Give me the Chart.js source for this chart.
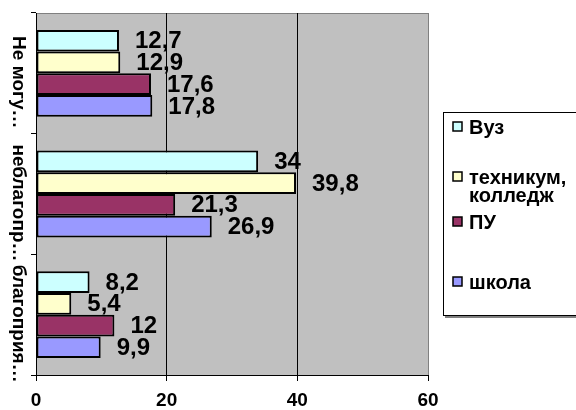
<!DOCTYPE html>
<html><head><meta charset="utf-8">
<script src="https://cdn.jsdelivr.net/npm/chart.js@4/dist/chart.umd.min.js"></script>
<style>html,body{margin:0;padding:0;background:#fff}canvas{display:block}</style>
</head><body>
<canvas id="c" width="576" height="410"></canvas>
<script>
// ---- data ----
const categories = ['Не могу…', 'неблагопр…', 'благоприя…'];
const seriesNames = ['Вуз', 'техникум, колледж', 'ПУ', 'школа'];
const vuz = [12.7, 34, 8.2];
const tekhnikum = [12.9, 39.8, 5.4];
const pu = [17.6, 21.3, 12];
const shkola = [17.8, 26.9, 9.9];
const xTicks = [0, 20, 40, 60];

// ---- styles ----
const FONT = "'Liberation Sans', Arial, sans-serif";
const colors = ['#CCFFFF', '#FFFFCC', '#993366', '#9999FF'];
Chart.defaults.font.family = FONT;
Chart.defaults.color = '#000';

const mctx = document.createElement('canvas').getContext('2d');
mctx.font = 'bold 19px ' + FONT;
const widest = Math.max(...categories.map(c => mctx.measureText(c).width));

const bgPlugin = {
  id: 'bg',
  beforeDraw(chart) {
    const {ctx, chartArea: a} = chart;
    ctx.save();
    ctx.fillStyle = '#C0C0C0';
    ctx.fillRect(a.left, a.top, a.right - a.left, a.bottom - a.top);
    ctx.strokeStyle = '#808080';
    ctx.lineWidth = 1;
    ctx.beginPath();
    ctx.moveTo(a.left, Math.round(a.top) + 0.5);
    ctx.lineTo(a.right, Math.round(a.top) + 0.5);
    ctx.stroke();
    ctx.restore();
  }
};

const valueLabels = {
  id: 'valueLabels',
  afterDatasetsDraw(chart) {
    const ctx = chart.ctx;
    ctx.save();
    ctx.font = 'bold 24px ' + FONT;
    ctx.fillStyle = '#000';
    ctx.textAlign = 'left';
    ctx.textBaseline = 'middle';
    chart.data.datasets.forEach((ds, di) => {
      const meta = chart.getDatasetMeta(di);
      meta.data.forEach((bar, i) => {
        const txt = String(ds.data[i]).replace('.', ',');
        ctx.fillText(txt, bar.x + 16, bar.y + 1);
      });
    });
    ctx.restore();
  }
};

const legendPlugin = {
  id: 'customLegend',
  afterDraw(chart) {
    const ctx = chart.ctx;
    ctx.save();
    ctx.fillStyle = '#808080';
    ctx.fillRect(445, 316, 140, 2);
    ctx.fillStyle = '#fff';
    ctx.fillRect(443, 112, 140, 204);
    ctx.strokeStyle = '#000';
    ctx.lineWidth = 1;
    ctx.strokeRect(443.5, 112.5, 200, 203);
    const ys = [127, 177, 222, 282];
    ctx.font = 'bold 20px ' + FONT;
    ctx.textAlign = 'left';
    ctx.textBaseline = 'middle';
    chart.data.datasets.forEach((ds, i) => {
      const y = ys[i];
      ctx.fillStyle = ds.backgroundColor;
      ctx.fillRect(453, y - 5, 9, 9);
      ctx.strokeStyle = '#000';
      ctx.lineWidth = 1.5;
      ctx.strokeRect(453, y - 5, 9, 9);
      ctx.fillStyle = '#000';
      const lines = ds.label.indexOf(', ') >= 0 ? [ds.label.split(', ')[0] + ',', ds.label.split(', ')[1]] : [ds.label];
      lines.forEach((ln, k) => ctx.fillText(ln, 469, y + 1 + k * 18));
    });
    ctx.restore();
  }
};

const series = [vuz, tekhnikum, pu, shkola];
new Chart(document.getElementById('c'), {
  type: 'bar',
  data: {
    labels: categories,
    datasets: series.map((d, i) => ({
      label: seriesNames[i],
      data: d,
      backgroundColor: colors[i],
      borderColor: '#000',
      borderWidth: 2,
      borderSkipped: false,
      categoryPercentage: 0.72,
      barPercentage: 1.0
    }))
  },
  options: {
    indexAxis: 'y',
    responsive: false,
    animation: false,
    layout: {padding: {top: 13, right: 148, left: 0, bottom: 0}},
    plugins: {legend: {display: false}, tooltip: {enabled: false}},
    scales: {
      x: {
        type: 'linear', position: 'bottom', min: 0, max: 60,
        afterBuildTicks: s => { s.ticks = xTicks.map(v => ({value: v})); },
        afterFit: s => { s.height = 35; },
        ticks: {font: {size: 19, weight: 'bold'}, padding: 8, color: '#000'},
        grid: {
          color: c => (c.tick && c.tick.value === 60) ? '#808080' : '#000',
          lineWidth: 1, tickLength: 6, tickColor: '#000', drawTicks: true
        },
        border: {display: true, color: '#000', width: 1}
      },
      y: {
        type: 'category', position: 'left', offset: true,
        afterFit: s => { s.width = 36; s.paddingTop = 0; s.paddingBottom = 0; },
        ticks: {
          autoSkip: false, minRotation: -90, maxRotation: -90,
          crossAlign: 'center', padding: 13 - widest / 2, labelOffset: 9,
          font: {size: 19, weight: 'bold'}, color: '#000'
        },
        grid: {offset: true, drawOnChartArea: false, drawTicks: true, tickLength: 5, color: '#000', tickColor: '#000'},
        border: {display: true, color: '#000', width: 1}
      }
    }
  },
  plugins: [bgPlugin, valueLabels, legendPlugin]
});
</script>
</body></html>
